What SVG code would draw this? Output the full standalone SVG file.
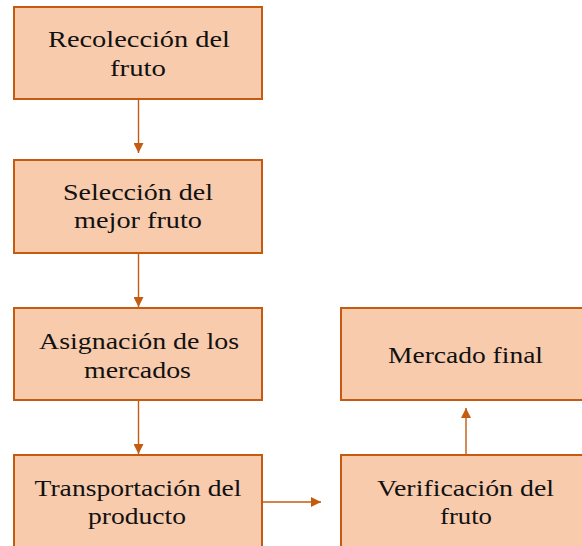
<svg xmlns="http://www.w3.org/2000/svg" width="582" height="546" viewBox="0 0 582 546">
<style>
.box{fill:#F8CBAD;stroke:#C55A11;stroke-width:2}
.t{font-family:"Liberation Serif","Times New Roman",serif;font-size:23px;fill:#111;text-anchor:middle}
.c{stroke:#C55A11;stroke-width:1.4;fill:none}
</style>
<defs>
<marker id="ah" viewBox="0 0 10 10" refX="10" refY="5" markerWidth="10" markerHeight="10" markerUnits="userSpaceOnUse" orient="auto">
<path d="M0,0 L10,5 L0,10 Z" fill="#C55A11"/>
</marker>
</defs>
<rect width="582" height="546" fill="#fff"/>
<g id="n1">
<rect class="box" x="14" y="7" width="248" height="92"/>
<text class="t" x="139" y="47" textLength="182" lengthAdjust="spacingAndGlyphs">Recolección del</text>
<text class="t" x="138" y="76" textLength="56" lengthAdjust="spacingAndGlyphs">fruto</text>
</g>
<g id="n2">
<rect class="box" x="14" y="160" width="248" height="93"/>
<text class="t" x="138" y="200" textLength="150" lengthAdjust="spacingAndGlyphs">Selección del</text>
<text class="t" x="138" y="228" textLength="128" lengthAdjust="spacingAndGlyphs">mejor fruto</text>
</g>
<g id="n3">
<rect class="box" x="14" y="308" width="248" height="92"/>
<text class="t" x="139" y="349" textLength="200" lengthAdjust="spacingAndGlyphs">Asignación de los</text>
<text class="t" x="137.5" y="378" textLength="107" lengthAdjust="spacingAndGlyphs">mercados</text>
</g>
<g id="n4">
<rect class="box" x="14" y="455" width="248" height="100"/>
<text class="t" x="138" y="496" textLength="207" lengthAdjust="spacingAndGlyphs">Transportación del</text>
<text class="t" x="137" y="524" textLength="98" lengthAdjust="spacingAndGlyphs">producto</text>
</g>
<g id="n5">
<rect class="box" x="341" y="308" width="250" height="92"/>
<text class="t" x="465.5" y="363" textLength="155" lengthAdjust="spacingAndGlyphs">Mercado final</text>
</g>
<g id="n6">
<rect class="box" x="341" y="455" width="250" height="100"/>
<text class="t" x="465.5" y="496" textLength="177" lengthAdjust="spacingAndGlyphs">Verificación del</text>
<text class="t" x="466" y="524" textLength="52" lengthAdjust="spacingAndGlyphs">fruto</text>
</g>
<g id="connectors">
<line class="c" x1="138.5" y1="99" x2="138.5" y2="153" marker-end="url(#ah)"/>
<line class="c" x1="138.5" y1="253" x2="138.5" y2="307" marker-end="url(#ah)"/>
<line class="c" x1="138.5" y1="400" x2="138.5" y2="454" marker-end="url(#ah)"/>
<line class="c" x1="262" y1="502" x2="321" y2="502" marker-end="url(#ah)"/>
<line class="c" x1="466" y1="455" x2="466" y2="408" marker-end="url(#ah)"/>
</g>
</svg>
